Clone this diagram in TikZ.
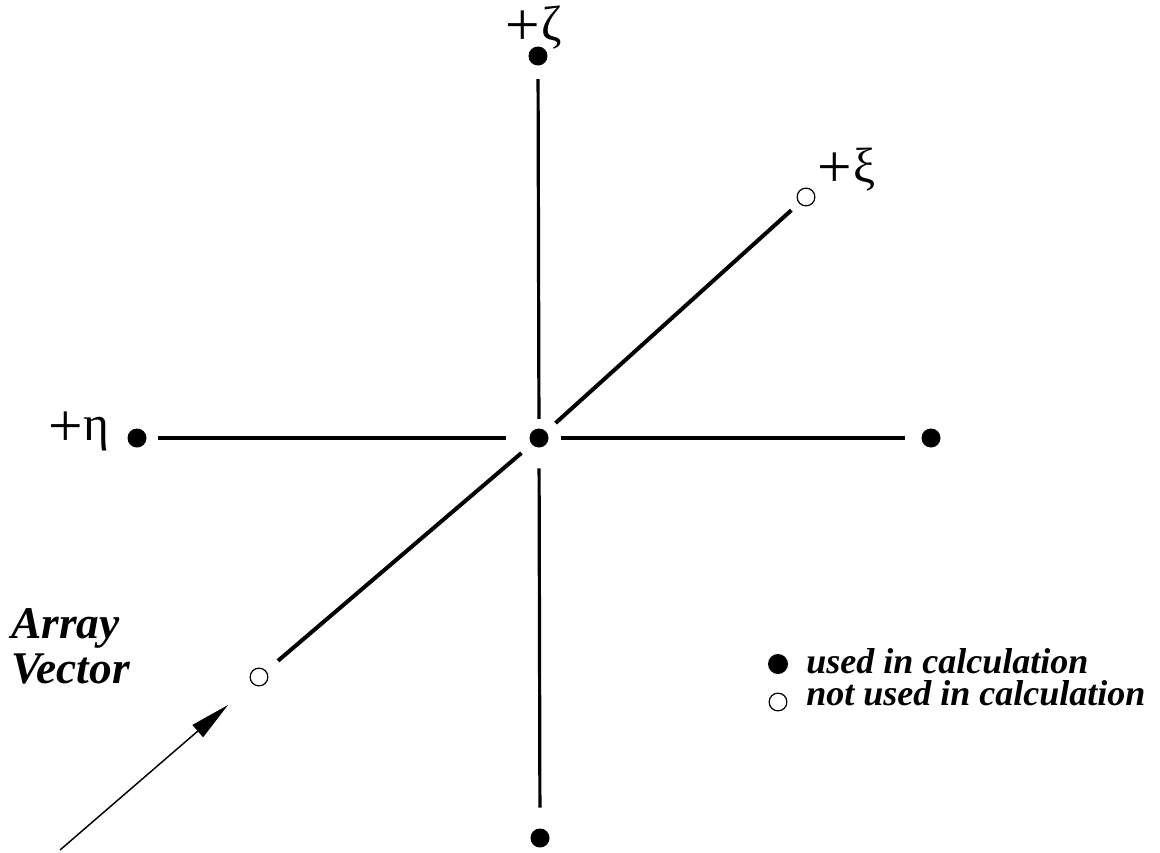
\documentclass[tikz,border=0pt]{standalone}
\usepackage{fontspec}
\setmainfont{Liberation Serif}
\usetikzlibrary{arrows.meta}
\begin{document}
\begin{tikzpicture}[x=0.75pt,y=-0.75pt,
  dot/.style={circle,fill=black,inner sep=0pt,minimum size=14.25pt},
  odot/.style={circle,draw=black,line width=0.9pt,fill=white,inner sep=0pt,minimum size=13.3pt},
  axis/.style={line width=3pt},
  vaxis/.style={line width=2.4pt},
  plussign/.style={font=\fontsize{46}{46}\selectfont,inner sep=0pt,anchor=center},
  greek/.style={font=\fontsize{37}{40}\selectfont,inner sep=0pt,anchor=base west},
  bigbi/.style={font=\fontsize{34}{33.75}\selectfont\bfseries\itshape,inner sep=0pt,align=left},
  legbi/.style={font=\fontsize{27}{30}\selectfont\bfseries\itshape,inner sep=0pt,anchor=base west}]
\useasboundingbox (0,0) rectangle (1160,853);
% points
\node[dot] (ctr) at (539,438) {};
\node[dot] (top) at (538,56) {};
\node[dot] (bot) at (540,838) {};
\node[dot] (lft) at (137,438) {};
\node[dot] (rgt) at (931,438) {};
\node[odot] (ur) at (806,197) {};
\node[odot] (ll) at (259,677) {};
% axes
\draw[vaxis,shorten <=10.1pt,shorten >=7.1pt] (top) -- (ctr);
\draw[vaxis,shorten <=15.4pt,shorten >=15.4pt] (ctr) -- (bot);
\draw[axis,shorten <=8.6pt,shorten >=17.6pt] (lft) -- (ctr);
\draw[axis,shorten <=9.4pt,shorten >=12.4pt] (ctr) -- (rgt);
\draw[axis,shorten <=9.4pt,shorten >=7.7pt] (ctr) -- (ur);
\draw[axis,shorten <=11.6pt,shorten >=10pt] (ll) -- (ctr);
% labels
\node[plussign] (lzp) at (523,28) {+};
\node[greek] (lz) at (541,40) {ζ};
\node[plussign] (lxp) at (835,170) {+};
\node[greek] (lx) at (853,182) {ξ};
\node[plussign] (lep) at (66,429) {+};
\node[greek] (le) at (83,440) {η};
% array vector
\node[bigbi,anchor=base west] (av) at (11,683) {Array\\Vector};
\coordinate (tail) at (60,850);
\coordinate (tip) at (228,705);
\draw[line width=1.1pt,-{Triangle[length=30pt,width=12pt]}] (tail) -- (tip);
% legend
\node[dot,minimum size=15pt] (k1) at (778,664) {};
\node[odot] (k2) at (778,702) {};
\node[legbi] (t1) at (806,673) {used in calculation};
\node[legbi] (t2) at (806,705) {not used in calculation};
\end{tikzpicture}
\end{document}
